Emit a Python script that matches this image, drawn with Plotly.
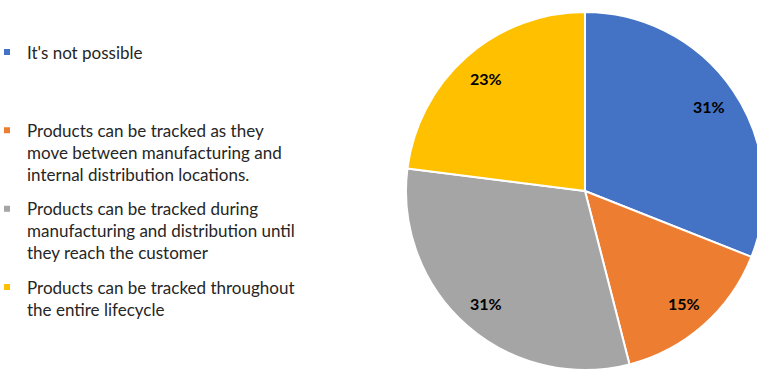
import math
import plotly.graph_objects as go

# Survey answers and their shares (percent)
labels = [
    "It's not possible",
    "Products can be tracked as they<br>move between manufacturing and<br>internal distribution locations.",
    "Products can be tracked during<br>manufacturing and distribution until<br>they reach the customer",
    "Products can be tracked throughout<br>the entire lifecycle",
]
values = [31, 15, 31, 23]
colors = ["#4472C4", "#ED7D31", "#A5A5A5", "#FFC000"]

# Legend rows are padded to a common height of three lines
legend_names = [labels[0] + "<br> <br> ", labels[1], labels[2], labels[3]]

# Canvas and pie geometry (pixels)
W, H = 780, 380
cx, cy, r = 585, 191, 179
label_frac = 0.84         # data labels sit near the rim

fig = go.Figure()

fig.add_trace(go.Pie(
    labels=[l.replace("<br>", " ") for l in labels],
    values=values,
    marker=dict(colors=colors, line=dict(color="white", width=2)),
    sort=False,
    direction="clockwise",
    rotation=0,
    textinfo="none",
    showlegend=False,
    hoverinfo="label+percent",
    domain=dict(x=[(cx - r) / W, (cx + r) / W],
                y=[(H - cy - r) / H, (H - cy + r) / H]),
))

# Percentage labels placed at each slice's mid-angle
total = sum(values)
start = 0.0
for v in values:
    share = v / total
    mid = (start + share / 2) * 2 * math.pi
    start += share
    px = cx + label_frac * r * math.sin(mid)
    py = cy - label_frac * r * math.cos(mid)
    fig.add_annotation(
        x=px / W, y=1 - py / H, xref="paper", yref="paper",
        xanchor="center", yanchor="middle",
        text=f"{round(share * 100)}%", showarrow=False,
        font=dict(family="Lato", size=16, color="black", weight="bold"),
    )

for i, (name, c) in enumerate(zip(legend_names, colors)):
    fig.add_trace(go.Scatter(
        x=[None], y=[None], mode="markers", name=name,
        marker=dict(symbol="square", size=6, color=c),
        legendgroup=f"g{i}", showlegend=True,
    ))

fig.update_layout(
    width=W, height=H,
    margin=dict(l=0, r=0, t=0, b=0),
    paper_bgcolor="white", plot_bgcolor="white",
    xaxis=dict(visible=False), yaxis=dict(visible=False),
    showlegend=True,
    legend=dict(
        x=0, xanchor="left", y=1 - 34.5 / H, yanchor="top",
        indentation=-13,
        traceorder="grouped", tracegroupgap=9, valign="top",
        font=dict(family="Lato", size=17, color="#262626"),
        itemclick=False, itemdoubleclick=False,
        bgcolor="rgba(0,0,0,0)",
    ),
)

fig.write_html(
    "out.html",
    post_script="document.documentElement.style.overflow='hidden';document.body.style.overflow='hidden';",
)
